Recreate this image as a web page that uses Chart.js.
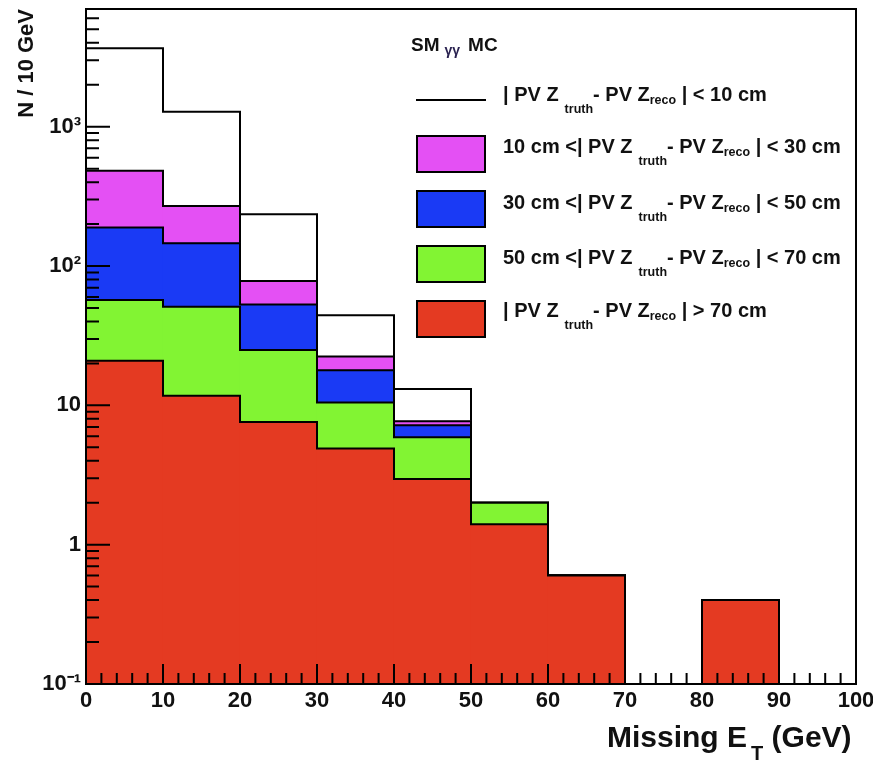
<!DOCTYPE html>
<html>
<head>
<meta charset="utf-8">
<script src="https://cdn.jsdelivr.net/npm/chart.js@4/dist/chart.umd.min.js"></script>
<style>
  body { margin: 0; background: #fff; }
  #wrap { position: relative; width: 873px; height: 767px; }
  canvas { position: absolute; left: 0; top: 0; }
  .txt { position: absolute; font-family: "Liberation Sans", Arial, sans-serif; font-weight: bold; color: #111; white-space: nowrap; }
  .row { left: 503px; font-size: 20px; line-height: 20px; }
  .row .tr { font-size: 12.5px; position: relative; top: 12px; margin-left: 6px; }
  .row .rc { font-size: 12.5px; position: relative; top: 3px; }
  .box { position: absolute; left: 416px; width: 66px; height: 34px; border: 2px solid #000; }
  .line { position: absolute; left: 416px; top: 99px; width: 70px; height: 2px; background: #000; }
</style>
</head>
<body>
<div id="wrap">
  <canvas id="histo" width="873" height="767"></canvas>

  <div class="txt" style="left:411px; top:35px; font-size:19px; line-height:19px;">SM<span style="font-size:14px; position:relative; top:4px; margin:0 8px 0 5px; color:#2a2250;">γγ</span>MC</div>

  <div class="line"></div>
  <div class="txt row" style="top:84px;">| PV Z<span class="tr">truth</span>- PV Z<span class="rc">reco</span> | &lt; 10 cm</div>

  <div class="box" style="top:135px; background:#e450f4;"></div>
  <div class="txt row" style="top:136px;">10 cm &lt;| PV Z<span class="tr">truth</span>- PV Z<span class="rc">reco</span> | &lt; 30 cm</div>

  <div class="box" style="top:190px; background:#1a3af5;"></div>
  <div class="txt row" style="top:192px;">30 cm &lt;| PV Z<span class="tr">truth</span>- PV Z<span class="rc">reco</span> | &lt; 50 cm</div>

  <div class="box" style="top:245px; background:#82f433;"></div>
  <div class="txt row" style="top:247px;">50 cm &lt;| PV Z<span class="tr">truth</span>- PV Z<span class="rc">reco</span> | &lt; 70 cm</div>

  <div class="box" style="top:300px; background:#e43a22;"></div>
  <div class="txt row" style="top:300px;">| PV Z<span class="tr">truth</span>- PV Z<span class="rc">reco</span> | &gt; 70 cm</div>

  <div class="txt" style="left:607px; top:722px; font-size:30px; line-height:30px;">Missing E<span style="font-size:20px; position:relative; top:13px; margin:0 0 0 4px;">T</span> (GeV)</div>
</div>

<script>
// bins of Missing ET (GeV), 10 GeV wide
const binLow = [0, 10, 20, 30, 40, 50, 60, 70, 80, 90];
const binWidth = 10;

// stacked heights as drawn (each layer includes everything below it)
const stackAll  = [3660, 1280, 235, 44.4, 13.1, 2.0, 0.6, 0, 0.4, 0];  // all events, < 10 cm on top
const stackGt10 = [484, 270, 78, 22.4, 7.7, 2.0, 0.6, 0, 0.4, 0];
const stackGt30 = [189, 146, 53, 17.9, 7.2, 2.0, 0.6, 0, 0.4, 0];
const stackGt50 = [57, 51, 25, 10.5, 5.9, 2.0, 0.6, 0, 0.4, 0];
const stackGt70 = [20.9, 11.7, 7.6, 4.9, 2.96, 1.4, 0.6, 0, 0.4, 0];

const yDecades = [0.1, 1, 10, 100, 1000];
const yDecadeLabels = ['10⁻¹', '1', '10', '10²', '10³'];

const tickFont = { family: '"Liberation Sans", Arial, sans-serif', weight: 'bold', size: 22 };

function layer(name, heights, colour) {
  return {
    label: name,
    heights: heights,
    data: binLow.map((b, i) => ({ x: b + binWidth / 2, y: heights[i] > 0 ? heights[i] : null })),
    backgroundColor: colour,
    borderWidth: 0,
    categoryPercentage: 1,
    barPercentage: 1
  };
}

// ROOT look: step outline per histogram, frame, ticks inside the frame
const rootStyle = {
  id: 'rootStyle',
  afterDatasetDraw(chart, args) {
    const ds = chart.data.datasets[args.index];
    const x = chart.scales.x, y = chart.scales.y, c = chart.ctx;
    const base = y.getPixelForValue(0);
    c.save();
    c.strokeStyle = '#000';
    c.lineWidth = 2;
    c.beginPath();
    c.moveTo(x.getPixelForValue(binLow[0]), base);
    binLow.forEach((lo, i) => {
      const py = y.getPixelForValue(ds.heights[i]);
      c.lineTo(x.getPixelForValue(lo), py);
      c.lineTo(x.getPixelForValue(lo + binWidth), py);
    });
    c.lineTo(x.getPixelForValue(binLow[binLow.length - 1] + binWidth), base);
    c.stroke();
    c.restore();
  },
  afterDatasetsDraw(chart) {
    const a = chart.chartArea, x = chart.scales.x, y = chart.scales.y, c = chart.ctx;
    c.save();
    c.strokeStyle = '#000';
    c.lineWidth = 2;
    c.beginPath();
    // y ticks
    for (let d = 0.1; d <= y.max; d *= 10) {
      for (let k = 1; k <= 9; k++) {
        const v = k * d;
        if (v < y.min || v > y.max) continue;
        const py = y.getPixelForValue(v);
        c.moveTo(a.left, py);
        c.lineTo(a.left + (k === 1 ? 24 : 13), py);
      }
    }
    // x ticks
    for (let v = x.min; v <= x.max; v += 2) {
      const px = x.getPixelForValue(v);
      c.moveTo(px, a.bottom);
      c.lineTo(px, a.bottom - (v % 10 === 0 ? 20 : 11));
    }
    c.stroke();
    c.strokeRect(a.left, a.top, a.right - a.left, a.bottom - a.top);
    c.restore();
  }
};

const ctx = document.getElementById('histo').getContext('2d');

new Chart(ctx, {
  type: 'bar',
  data: {
    // first dataset is drawn last (on top)
    datasets: [
      layer('|PV Ztruth - PV Zreco| > 70 cm', stackGt70, '#e43a22'),
      layer('50 cm < |PV Ztruth - PV Zreco| < 70 cm', stackGt50, '#82f433'),
      layer('30 cm < |PV Ztruth - PV Zreco| < 50 cm', stackGt30, '#1a3af5'),
      layer('10 cm < |PV Ztruth - PV Zreco| < 30 cm', stackGt10, '#e450f4'),
      layer('|PV Ztruth - PV Zreco| < 10 cm', stackAll, '#ffffff')
    ]
  },
  options: {
    responsive: false,
    animation: false,
    layout: { padding: { top: 9, right: 17, left: 0, bottom: 0 } },
    plugins: {
      legend: { display: false },
      tooltip: { enabled: false }
    },
    scales: {
      x: {
        type: 'linear',
        min: 0,
        max: 100,
        offset: false,
        stacked: true,
        grid: { display: false, drawTicks: false, offset: false },
        border: { display: false },
        ticks: { stepSize: 10, padding: 4, color: '#111', font: tickFont, maxRotation: 0 },
        afterFit: (s) => { s.height = 83; s.paddingLeft = 0; s.paddingRight = 0; }
      },
      y: {
        type: 'logarithmic',
        min: 0.1,
        max: 7000,
        stacked: false,
        grid: { display: false, drawTicks: false },
        border: { display: false },
        ticks: {
          autoSkip: false,
          padding: 5,
          color: '#111',
          font: tickFont,
          callback: (v) => {
            const i = yDecades.findIndex(d => Math.abs(d - v) < d * 1e-6);
            return i >= 0 ? yDecadeLabels[i] : null;
          }
        },
        title: {
          display: true,
          text: 'N / 10 GeV',
          align: 'end',
          color: '#111',
          font: { family: '"Liberation Sans", Arial, sans-serif', weight: 'bold', size: 22 },
          padding: { top: 14, bottom: 0 }
        },
        afterFit: (s) => { s.width = 86; s.paddingTop = 0; s.paddingBottom = 0; }
      }
    }
  },
  plugins: [rootStyle]
});
</script>
</body>
</html>
